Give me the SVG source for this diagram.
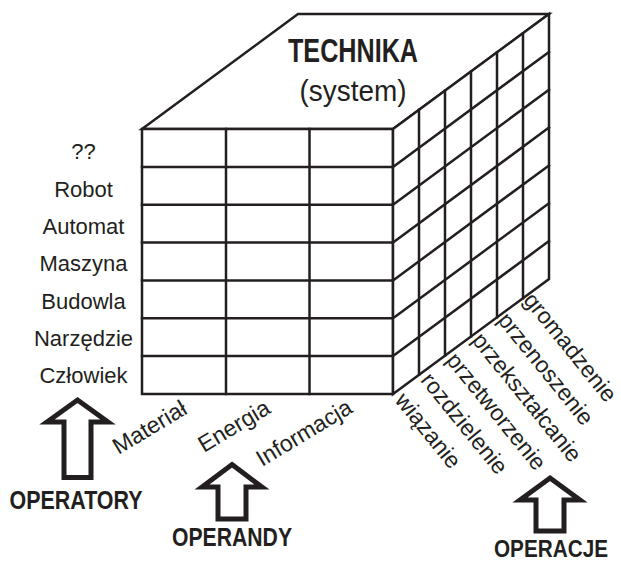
<svg xmlns="http://www.w3.org/2000/svg" width="621" height="566" viewBox="0 0 621 566">
  <style>
    .ln { stroke: #231f20; stroke-width: 2.5; fill: none; stroke-linecap: square; }
    .face { fill: #ffffff; stroke: #231f20; stroke-width: 2.5; stroke-linejoin: miter; }
    .lbl { font-family: "Liberation Sans", Arial, sans-serif; font-size: 22px; fill: #231f20; }
    .rot { font-size: 23px; }
    .ttl { font-family: "Liberation Sans", Arial, sans-serif; font-weight: bold; fill: #231f20; }
    .arrow { fill: #ffffff; stroke: #231f20; stroke-width: 5; stroke-linejoin: miter; stroke-miterlimit: 10; }
  </style>
  <rect width="621" height="566" fill="#ffffff"/>

  <!-- cube: TECHNIKA (system) -->
  <g id="cube">
    <!-- top face -->
    <polygon class="face" points="142,129 298,14 549,14 393,129"/>
    <text class="ttl" x="353" y="61.5" font-size="33" text-anchor="middle" textLength="130" lengthAdjust="spacingAndGlyphs">TECHNIKA</text>
    <text class="lbl" x="353" y="101" text-anchor="middle" textLength="107" lengthAdjust="spacingAndGlyphs" style="font-size:30px">(system)</text>

    <!-- front face: operators x operands -->
    <rect class="face" x="142" y="129" width="251" height="265"/>
    <g class="ln">
      <line x1="226" y1="129" x2="226" y2="394"/>
      <line x1="309.5" y1="129" x2="309.5" y2="394"/>
      <line x1="142" y1="166.9" x2="393" y2="166.9"/>
      <line x1="142" y1="204.7" x2="393" y2="204.7"/>
      <line x1="142" y1="242.6" x2="393" y2="242.6"/>
      <line x1="142" y1="280.4" x2="393" y2="280.4"/>
      <line x1="142" y1="318.3" x2="393" y2="318.3"/>
      <line x1="142" y1="356.1" x2="393" y2="356.1"/>
    </g>

    <!-- right face: operations -->
    <polygon class="face" points="393,129 549,14 549,279 393,394"/>
    <g class="ln">
      <line x1="393" y1="166.9" x2="549" y2="51.9"/>
      <line x1="393" y1="204.7" x2="549" y2="89.7"/>
      <line x1="393" y1="242.6" x2="549" y2="127.6"/>
      <line x1="393" y1="280.4" x2="549" y2="165.4"/>
      <line x1="393" y1="318.3" x2="549" y2="203.3"/>
      <line x1="393" y1="356.1" x2="549" y2="241.1"/>
      <line x1="419" y1="109.8" x2="419" y2="374.8"/>
      <line x1="445" y1="90.7" x2="445" y2="355.7"/>
      <line x1="471" y1="71.5" x2="471" y2="336.5"/>
      <line x1="497" y1="52.3" x2="497" y2="317.3"/>
      <line x1="523" y1="33.2" x2="523" y2="298.2"/>
    </g>
  </g>

  <!-- operators (rows) -->
  <g id="operatory" class="lbl" text-anchor="middle">
    <text x="83.5" y="159.3">??</text>
    <text x="83.5" y="196.6">Robot</text>
    <text x="83.5" y="233.9">Automat</text>
    <text x="83.5" y="271.3">Maszyna</text>
    <text x="83.5" y="308.6">Budowla</text>
    <text x="83.5" y="345.9">Narzędzie</text>
    <text x="83.5" y="383.3">Człowiek</text>
  </g>

  <!-- operands (front columns) -->
  <g id="operandy" class="lbl rot">
    <text transform="translate(118.5,455) rotate(-31)">Materiał</text>
    <text transform="translate(204,453) rotate(-31)">Energia</text>
    <text transform="translate(262,467) rotate(-31)">Informacja</text>
  </g>

  <!-- operations (depth columns) -->
  <g id="operacje" class="lbl rot">
    <text transform="translate(394,400.7) rotate(51)">wiązanie</text>
    <text transform="translate(419.7,380.6) rotate(51)">rozdzielenie</text>
    <text transform="translate(445.3,360.6) rotate(51)">przetworzenie</text>
    <text transform="translate(471,340.5) rotate(51)">przekształcanie</text>
    <text transform="translate(496.7,320.5) rotate(51)">przenoszenie</text>
    <text transform="translate(522.4,300.4) rotate(51)">gromadzenie</text>
  </g>

  <!-- axis arrows -->
  <g id="arrow-operatory">
    <path class="arrow" d="M77.5,400 L108,422 L91,422 L91,477.5 L64,477.5 L64,422 L47,422 Z"/>
    <text class="ttl" x="76" y="509" font-size="25" text-anchor="middle" textLength="133" lengthAdjust="spacingAndGlyphs">OPERATORY</text>
  </g>
  <g id="arrow-operandy">
    <path class="arrow" d="M232,464.5 L262,487 L246,487 L246,519 L218,519 L218,487 L202,487 Z"/>
    <text class="ttl" x="232" y="546" font-size="25" text-anchor="middle" textLength="120" lengthAdjust="spacingAndGlyphs">OPERANDY</text>
  </g>
  <g id="arrow-operacje">
    <path class="arrow" d="M550,478 L580,500 L564,500 L564,531 L536,531 L536,500 L520,500 Z"/>
    <text class="ttl" x="551" y="557" font-size="24" text-anchor="middle" textLength="114" lengthAdjust="spacingAndGlyphs">OPERACJE</text>
  </g>
</svg>
